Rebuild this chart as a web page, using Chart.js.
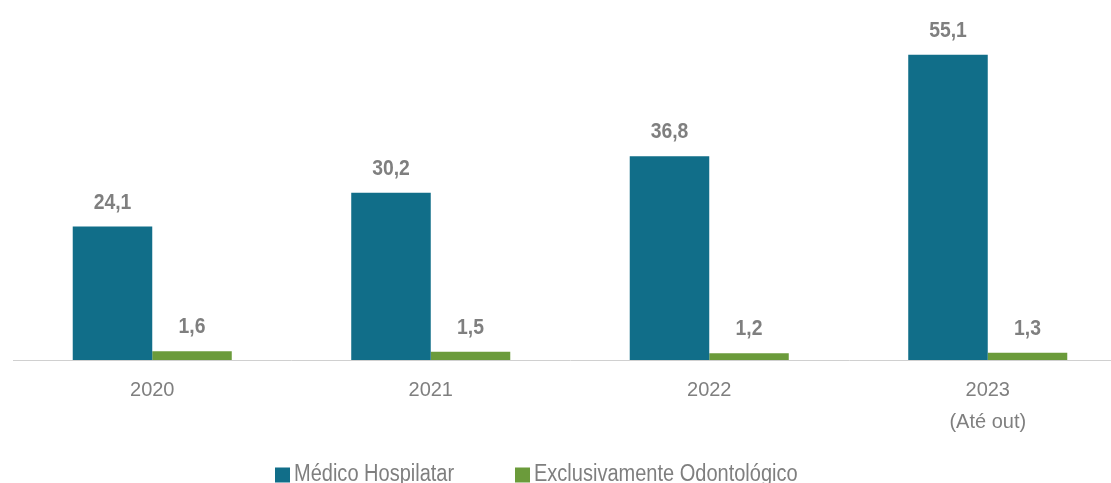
<!DOCTYPE html>
<html>
<head>
<meta charset="utf-8">
<script src="https://cdn.jsdelivr.net/npm/chart.js@4.4.0/dist/chart.umd.min.js"></script>
<style>
html,body{margin:0;padding:0;background:#fff;overflow:hidden;}
#wrap{position:relative;width:1127px;height:483px;}
</style>
</head>
<body>
<div id="wrap"><canvas id="c"></canvas></div>
<script>
const categories = [["2020"], ["2021"], ["2022"], ["2023", "(Até out)"]];
const seriesNames = ["Médico Hospilatar", "Exclusivamente Odontológico"];
const medicoHospitalar = [24.1, 30.2, 36.8, 55.1];
const exclusivamenteOdonto = [1.6, 1.5, 1.2, 1.3];
const seriesColors = ["#116E89", "#6B9B3B"];

const FONT = "'Liberation Sans', Arial, sans-serif";
const GRAY = "#7F7F7F";

const valueLabels = {
  id: 'valueLabels',
  afterDatasetsDraw(chart) {
    const ctx = chart.ctx;
    const sx = 0.88;
    ctx.save();
    ctx.font = "bold 22px " + FONT;
    ctx.fillStyle = GRAY;
    ctx.textAlign = 'center';
    ctx.textBaseline = 'alphabetic';
    chart.data.datasets.forEach((ds, di) => {
      chart.getDatasetMeta(di).data.forEach((bar, i) => {
        const txt = ds.data[i].toFixed(1).replace('.', ',');
        ctx.save();
        ctx.translate(bar.x, bar.y - 18);
        ctx.scale(sx, 1);
        ctx.fillText(txt, 0, 0);
        ctx.restore();
      });
    });
    ctx.restore();
  }
};

const customLegend = {
  id: 'customLegend',
  afterDraw(chart) {
    const ctx = chart.ctx;
    const sx = 0.87;
    ctx.save();
    ctx.font = "23px " + FONT;
    ctx.textBaseline = 'middle';
    ctx.textAlign = 'left';
    const box = 15, gapText = 4;
    const starts = [275, 515];
    const y = 475;
    chart.data.datasets.forEach((ds, i) => {
      const x = starts[i];
      ctx.fillStyle = ds.backgroundColor;
      ctx.fillRect(x, y - box / 2, box, box);
      ctx.fillStyle = GRAY;
      ctx.save();
      ctx.translate(x + box + gapText, y);
      ctx.scale(sx, 1);
      ctx.fillText(ds.label, 0, 0);
      ctx.restore();
    });
    ctx.restore();
  }
};

new Chart(document.getElementById('c'), {
  type: 'bar',
  data: {
    labels: categories,
    datasets: [
      {label: seriesNames[0], data: medicoHospitalar, backgroundColor: seriesColors[0], categoryPercentage: 0.571, barPercentage: 1.0},
      {label: seriesNames[1], data: exclusivamenteOdonto, backgroundColor: seriesColors[1], categoryPercentage: 0.571, barPercentage: 1.0}
    ]
  },
  options: {
    responsive: true,
    maintainAspectRatio: false,
    animation: false,
    layout: {padding: {left: 13, right: 0, top: 0, bottom: 0}},
    plugins: {legend: {display: false}, tooltip: {enabled: false}},
    scales: {
      x: {
        grid: {display: false, drawTicks: false},
        border: {display: true, color: '#D0D0D0', width: 1},
        ticks: {color: GRAY, font: {family: FONT, size: 20, lineHeight: 1.6}, padding: 14, maxRotation: 0},
        afterFit(scale) { scale.height = 123; }
      },
      y: {display: false, min: 0, max: 65}
    }
  },
  plugins: [valueLabels, customLegend]
});
</script>
</body>
</html>
